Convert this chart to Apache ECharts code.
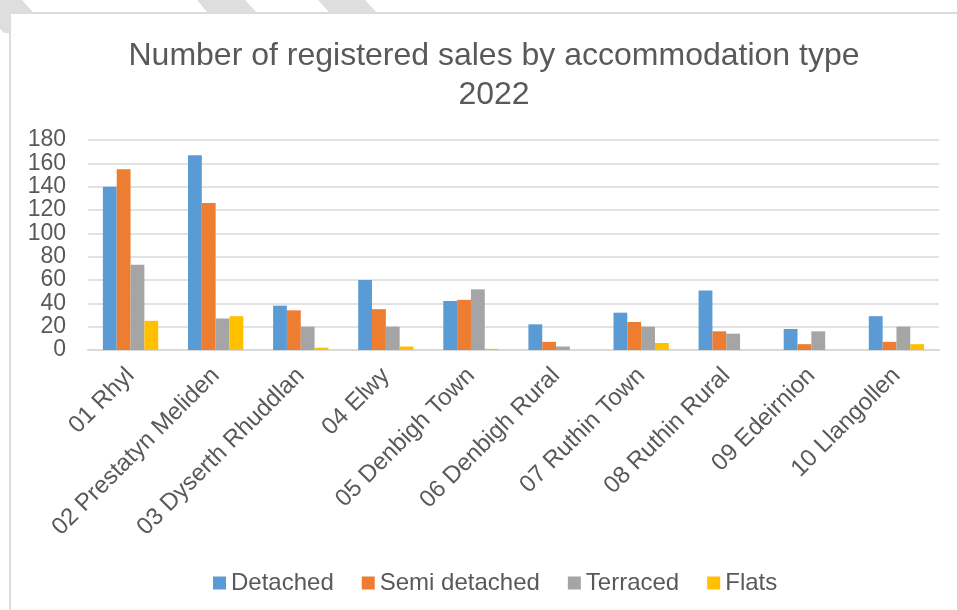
<!DOCTYPE html>
<html>
<head>
<meta charset="utf-8">
<title>registered sales</title>
<script src="https://cdn.jsdelivr.net/npm/echarts@6/dist/echarts.min.js"></script>
<style>
html,body{margin:0;padding:0;background:#fff;}
#chart{width:957px;height:610px;}
</style>
</head>
<body>
<div id="chart"></div>
<script>
// data
var areas = ['01 Rhyl','02 Prestatyn Meliden','03 Dyserth Rhuddlan','04 Elwy','05 Denbigh Town',
	'06 Denbigh Rural','07 Ruthin Town','08 Ruthin Rural','09 Edeirnion','10 Llangollen'];
var detached = [140,167,38,60,42,22,32,51,18,29];
var semiDetached = [155,126,34,35,43,7,24,16,5,7];
var terraced = [73,27,20,20,52,3,20,14,16,20];
var flats = [25,29,2,3,1,0,6,0,0,5];
var yTicks = [0,180,20]; // min,max,interval

var txt = '#595959';
var fnt = '"Liberation Sans", Arial, sans-serif';

function bar(name,data,color){
	return {
		name:name,
		type:'bar',
		data:data,
		barGap:'0%',
		barCategoryGap:'35%',
		itemStyle:{color:color}
	};
}

function initChart(elem){
	var myChart = echarts.init(document.getElementById(elem));
	var option = {
		textStyle:{fontFamily:fnt},
		animation:false,
		// frame + the grey stripes peeking out over it
		graphic:[
			{type:'polygon',z:-10,shape:{points:[[-26,0],[22,0],[52,33],[4,33]]},style:{fill:'#dedede'}},
			{type:'polygon',z:-10,shape:{points:[[197,0],[245,0],[257,13],[208,13]]},style:{fill:'#dedede'}},
			{type:'polygon',z:-10,shape:{points:[[318,0],[365,0],[377,13],[330,13]]},style:{fill:'#dedede'}},
			{type:'rect',z:-9,shape:{x:10,y:13,width:960,height:610},style:{fill:'#fff',stroke:'#dcdcdc',lineWidth:2}}
		],
		title:{
			text:'Number of registered sales by accommodation type\n2022',
			left:489,
			top:32,
			textAlign:'center',
			textStyle:{color:txt,fontSize:32,fontWeight:'normal',lineHeight:39,fontFamily:fnt}
		},
		legend:{
			left:208,
			top:566,
			itemWidth:13,
			itemHeight:13,
			itemGap:28,
			icon:'rect',
			textStyle:{color:txt,fontSize:24,fontFamily:fnt}
		},
		grid:{left:88,right:18,top:140,bottom:260},
		xAxis:{
			type:'category',
			data:areas,
			axisLine:{lineStyle:{color:'#d9d9d9',width:2}},
			axisTick:{show:false},
			axisLabel:{rotate:45,color:txt,fontSize:24,margin:22,interval:0,fontFamily:fnt}
		},
		yAxis:{
			type:'value',
			min:yTicks[0],
			max:yTicks[1],
			interval:yTicks[2],
			axisLine:{show:false},
			axisTick:{show:false},
			axisLabel:{color:txt,fontSize:23,margin:22,fontFamily:fnt},
			splitLine:{lineStyle:{color:'#d9d9d9',width:1.5}}
		},
		series:[
			bar('Detached',detached,'#5b9bd5'),
			bar('Semi detached',semiDetached,'#ed7d31'),
			bar('Terraced',terraced,'#a5a5a5'),
			bar('Flats',flats,'#ffc000')
		]
	};
	myChart.setOption(option);
}

initChart('chart');
</script>
</body>
</html>
